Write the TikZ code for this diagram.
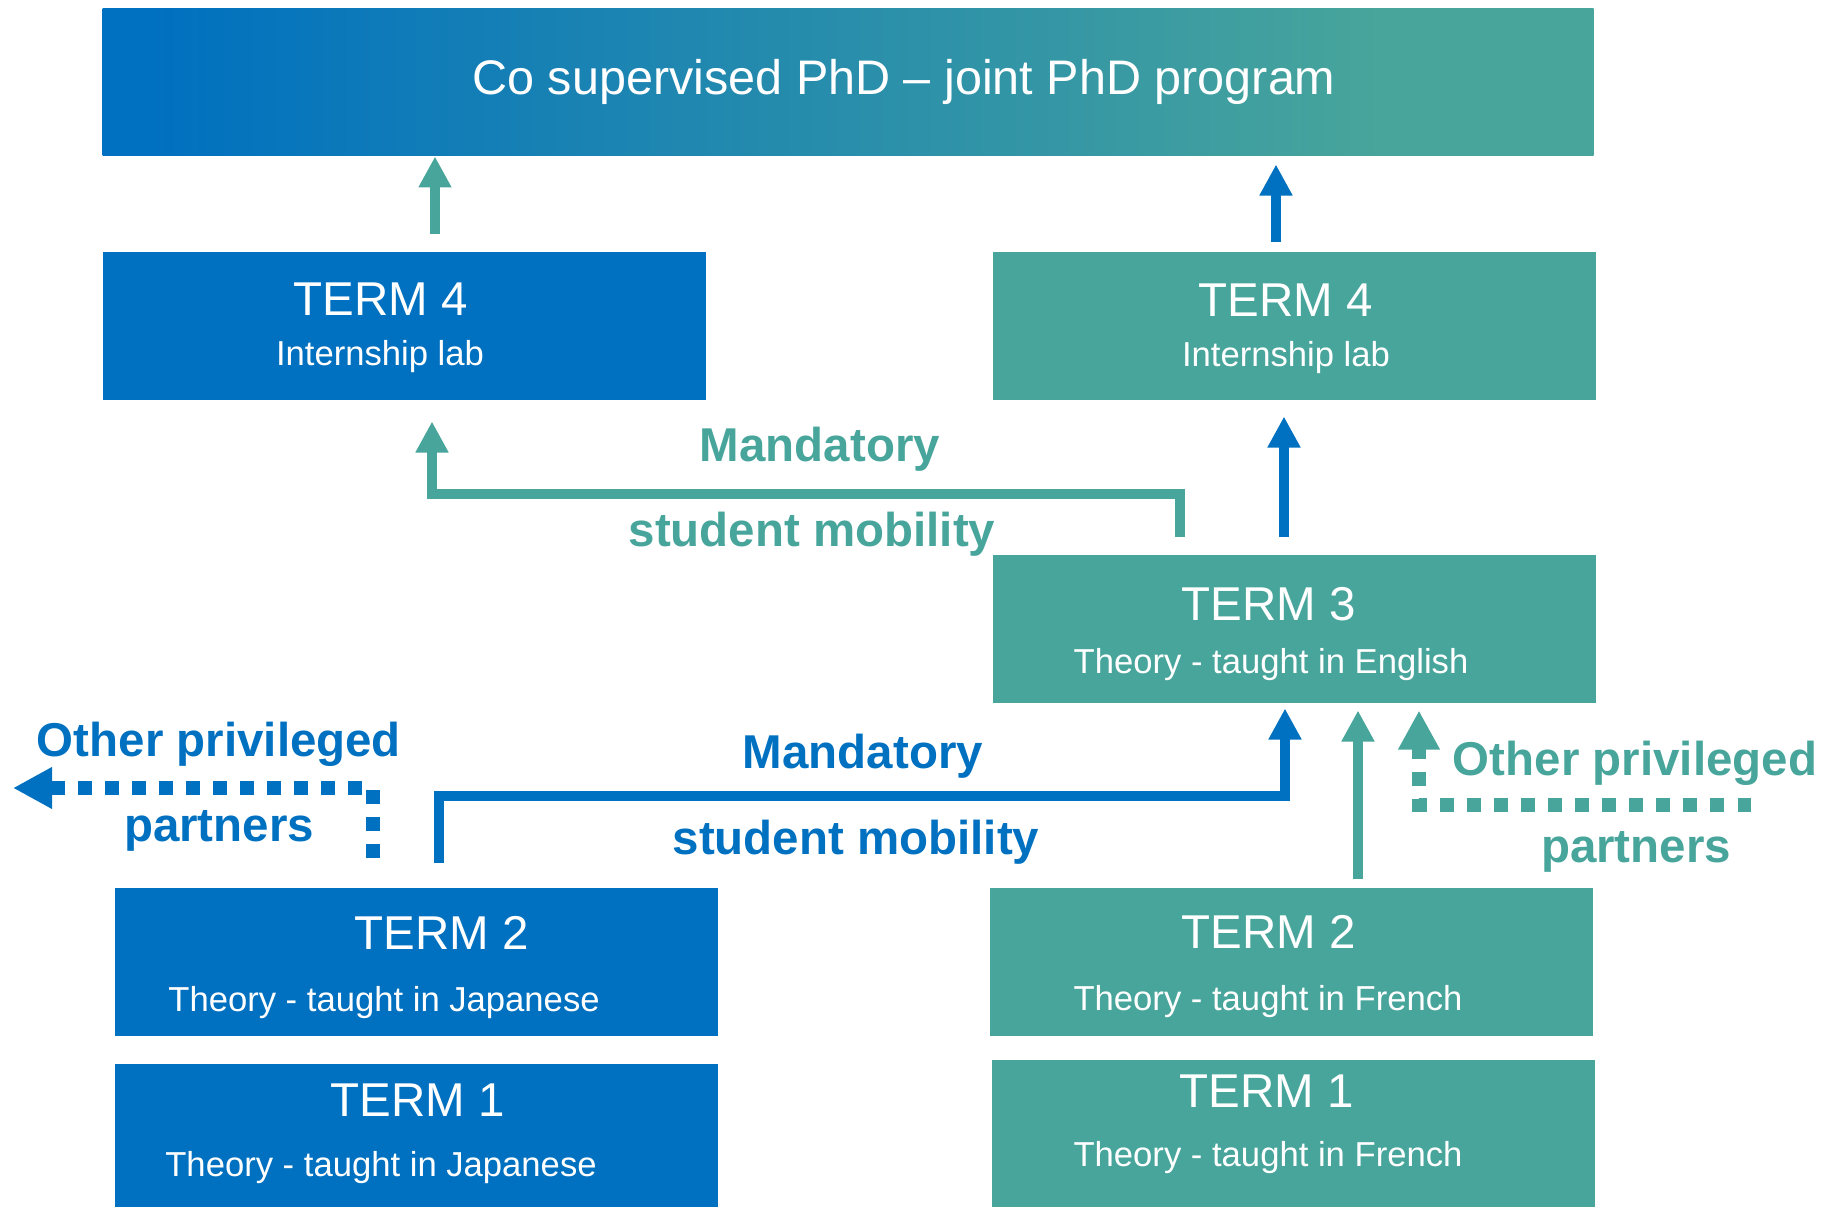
\documentclass[tikz,border=0pt]{standalone}
\usepackage{fontspec}
\setmainfont{Liberation Sans}
\usetikzlibrary{arrows.meta,calc}
\definecolor{cblue}{RGB}{0,112,192}
\definecolor{cteal}{RGB}{72,165,155}
\pgfdeclarehorizontalshading{phdfade}{100bp}{color(0bp)=(cblue); color(26.5bp)=(cblue); color(68bp)=(cteal); color(100bp)=(cteal)}

\begin{document}
\begin{tikzpicture}[x=0.01cm,y=-0.01cm,
    termbox/.style={anchor=north west,inner sep=0pt,minimum width=6.03cm,minimum height=1.48cm},
    head/.style={text=white,font=\fontsize{13.5}{16}\selectfont,anchor=base,inner sep=0pt},
    sub/.style={text=white,font=\fontsize{9.85}{12}\selectfont,anchor=base,inner sep=0pt},
    lbl/.style={font=\bfseries\fontsize{13.5}{16}\selectfont,anchor=base,inner sep=0pt},
    flow/.style={line width=0.1cm,-{Triangle[width=0.31cm,length=0.31cm]}},
    dots/.style={line width=0.135cm,dash pattern=on 0.135cm off 0.135cm,-{Triangle[width=0.39cm,length=0.39cm]}}]
  \useasboundingbox (0,0) rectangle (1838,1207);

  % boxes
  \node[anchor=north west,inner sep=0pt,minimum width=14.9cm,minimum height=1.47cm,shade,shading=phdfade] (top) at (102,8) {};
  \node[termbox,fill=cblue] (t4l) at (102,251) {};
  \node[termbox,fill=cteal] (t4r) at (992,251) {};
  \node[termbox,fill=cteal] (t3) at (992,554) {};
  \node[termbox,fill=cblue] (t2l) at (114,887) {};
  \node[termbox,fill=cblue] (t1l) at (114,1063) {};
  \node[termbox,fill=cteal] (t2r) at (989,887) {};
  \node[termbox,fill=cteal] (t1r) at (991,1059) {};

  % texts in the boxes
  \node[head,font=\fontsize{13.8}{16}\selectfont] (title) at (904,95) {Co supervised PhD – joint PhD program};
  \node[head] (t4lhead) at (381,316) {TERM 4};
  \node[sub] (t4lsub) at (380,366) {Internship lab};
  \node[head] (t4rhead) at (1286,317) {TERM 4};
  \node[sub] (t4rsub) at (1286,367) {Internship lab};
  \node[head] (t3head) at (1269,621) {TERM 3};
  \node[sub] (t3sub) at (1271,674) {Theory - taught in English};
  \node[head] (t2lhead) at (442,950) {TERM 2};
  \node[sub] (t2lsub) at (384,1012) {Theory - taught in Japanese};
  \node[head] (t1lhead) at (418,1117) {TERM 1};
  \node[sub] (t1lsub) at (381,1177) {Theory - taught in Japanese};
  \node[head] (t2rhead) at (1269,949) {TERM 2};
  \node[sub] (t2rsub) at (1268,1011) {Theory - taught in French};
  \node[head] (t1rhead) at (1267,1108) {TERM 1};
  \node[sub] (t1rsub) at (1268,1167) {Theory - taught in French};

  % labels
  \node[lbl,text=cteal] (mand1) at (820,462) {Mandatory};
  \node[lbl,text=cteal] (mob1) at (812,547) {student mobility};
  \node[lbl,text=cblue] (mand2) at (863,769) {Mandatory};
  \node[lbl,text=cblue] (mob2) at (856,855) {student mobility};
  \node[lbl,text=cblue] (oth1) at (219,757) {Other privileged};
  \node[lbl,text=cblue] (part1) at (219,842) {partners};
  \node[lbl,text=cteal] (oth2) at (1635,776) {Other privileged};
  \node[lbl,text=cteal] (part2) at (1636,863) {partners};

  % arrows
  \coordinate (a1) at (435,234);
  \draw[flow,cteal] (a1) -- (a1 |- top.south);
  \coordinate (a2) at (1276,242);
  \draw[flow,cblue,shorten >=0.08cm] (a2) -- (a2 |- top.south);
  \coordinate (a3) at (1284,537);
  \draw[flow,cblue,shorten >=0.16cm] (a3) -- (a3 |- t4r.south);
  \coordinate (a4) at (1358,879);
  \draw[flow,cteal,shorten >=0.07cm] (a4) -- (a4 |- t3.south);

  \coordinate (m1) at (1180,537);
  \coordinate (m1k) at (432,494);
  \draw[flow,cteal,shorten >=0.21cm] (m1) |- (m1k) -- (m1k |- t4l.south);
  \coordinate (m2) at (439,863);
  \coordinate (m2k) at (1285,796);
  \draw[flow,cblue,shorten >=0.05cm] (m2) |- (m2k) -- (m2k |- t3.south);

  \coordinate (p1) at (1751,805);
  \coordinate (p1k) at (1419,805);
  \draw[dots,cteal,shorten >=0.07cm] (p1) -- (p1k) -- (p1k |- t3.south);
  \coordinate (p2) at (373,858);
  \coordinate (p2t) at (13,788);
  \draw[dots,cblue] (p2) |- (p2t);
\end{tikzpicture}
\end{document}
